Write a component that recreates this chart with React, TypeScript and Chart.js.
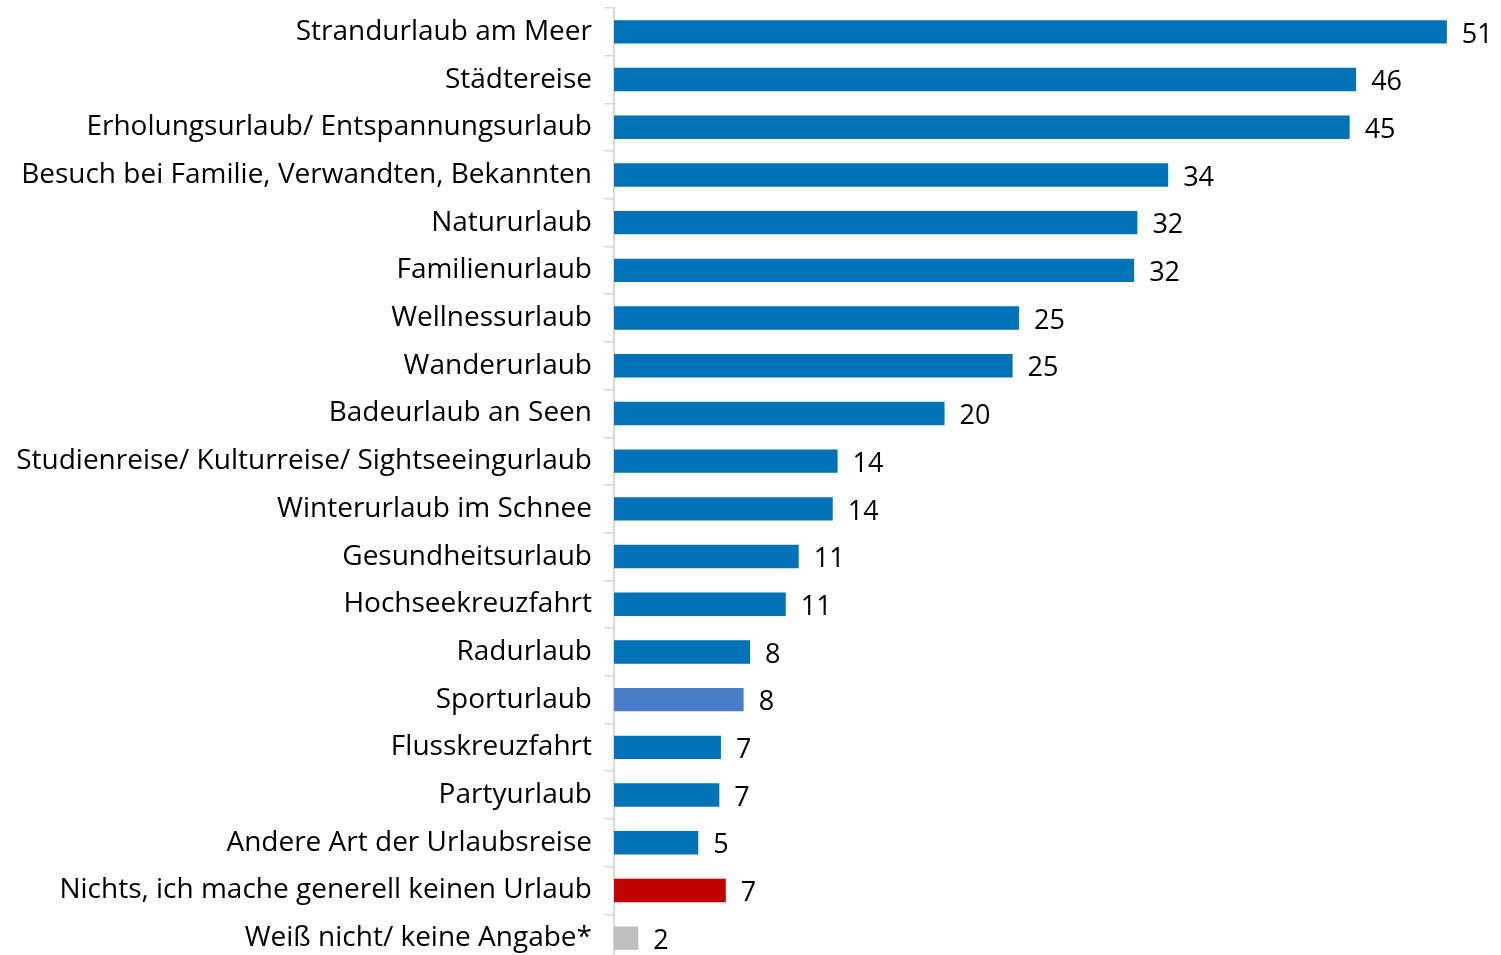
import React, { useEffect, useRef } from "react";
import { Chart, registerables } from "chart.js";

Chart.register(...registerables);

const categories = [
  "Strandurlaub am Meer",
  "Städtereise",
  "Erholungsurlaub/ Entspannungsurlaub",
  "Besuch bei Familie, Verwandten, Bekannten",
  "Natururlaub",
  "Familienurlaub",
  "Wellnessurlaub",
  "Wanderurlaub",
  "Badeurlaub an Seen",
  "Studienreise/ Kulturreise/ Sightseeingurlaub",
  "Winterurlaub im Schnee",
  "Gesundheitsurlaub",
  "Hochseekreuzfahrt",
  "Radurlaub",
  "Sporturlaub",
  "Flusskreuzfahrt",
  "Partyurlaub",
  "Andere Art der Urlaubsreise",
  "Nichts, ich mache generell keinen Urlaub",
  "Weiß nicht/ keine Angabe*",
];

// bar lengths
const values = [
  51.4, 45.8, 45.4, 34.2, 32.3, 32.1, 25.0, 24.6, 20.4, 13.8,
  13.5, 11.4, 10.6, 8.4, 8.0, 6.6, 6.5, 5.2, 6.9, 1.5,
];

// rounded value labels printed next to the bars
const valueLabels = [
  "51", "46", "45", "34", "32", "32", "25", "25", "20", "14",
  "14", "11", "11", "8", "8", "7", "7", "5", "7", "2",
];

const BASE_BLUE = "#0072B8";
const specialColors: Record<string, string> = {
  Sporturlaub: "#4A7EC8",
  "Nichts, ich mache generell keinen Urlaub": "#C00000",
  "Weiß nicht/ keine Angabe*": "#BFBFBF",
};

const FONT_FAMILY = "'Open Sans', sans-serif";
const FONT_SIZE = 28;

const valueLabelPlugin = {
  id: "valueLabels",
  afterDatasetsDraw(chart: any) {
    const ctx = chart.ctx;
    const meta = chart.getDatasetMeta(0);
    ctx.save();
    ctx.font = `${FONT_SIZE - 1}px ${FONT_FAMILY}`;
    ctx.fillStyle = "#000000";
    ctx.textAlign = "left";
    ctx.textBaseline = "middle";
    meta.data.forEach((bar: any, i: number) => {
      ctx.fillText(valueLabels[i], bar.x + 15, bar.y + 3);
    });
    ctx.restore();
  },
};

export default function App() {
  const canvasRef = useRef<HTMLCanvasElement | null>(null);

  useEffect(() => {
    if (!canvasRef.current) return;
    const chart = new Chart(canvasRef.current, {
      type: "bar",
      data: {
        labels: categories,
        datasets: [
          {
            data: values,
            backgroundColor: categories.map((c) => specialColors[c] || BASE_BLUE),
            borderWidth: 0,
            barPercentage: 0.49,
            categoryPercentage: 1,
          },
        ],
      },
      options: {
        indexAxis: "y",
        animation: false,
        responsive: false,
        devicePixelRatio: 1,
        layout: { padding: { top: 8, right: 12, bottom: 0, left: 0 } },
        plugins: {
          legend: { display: false },
          tooltip: { enabled: false },
        },
        scales: {
          x: {
            display: false,
            min: 0,
            max: 54,
          },
          y: {
            afterFit(scale: any) {
              scale.width = 614;
              scale.paddingTop = 0;
              scale.paddingBottom = 0;
            },
            grid: {
              drawOnChartArea: false,
              drawTicks: true,
              tickLength: 10,
              color: "#D9D9D9",
              lineWidth: 1.5,
            },
            border: { display: true, color: "#D9D9D9", width: 2 },
            ticks: {
              padding: 12,
              color: "#000000",
              font: { family: FONT_FAMILY, size: FONT_SIZE },
              autoSkip: false,
            },
          },
        },
      },
      plugins: [valueLabelPlugin],
    });
    return () => chart.destroy();
  }, []);

  return (
    <div
      style={{
        position: "fixed",
        left: 0,
        top: 0,
        width: 1501,
        height: 955,
        overflow: "hidden",
        background: "#ffffff",
      }}
    >
      <canvas
        ref={canvasRef}
        width={1501}
        height={962}
        style={{ display: "block", width: 1501, height: 962 }}
      />
    </div>
  );
}
